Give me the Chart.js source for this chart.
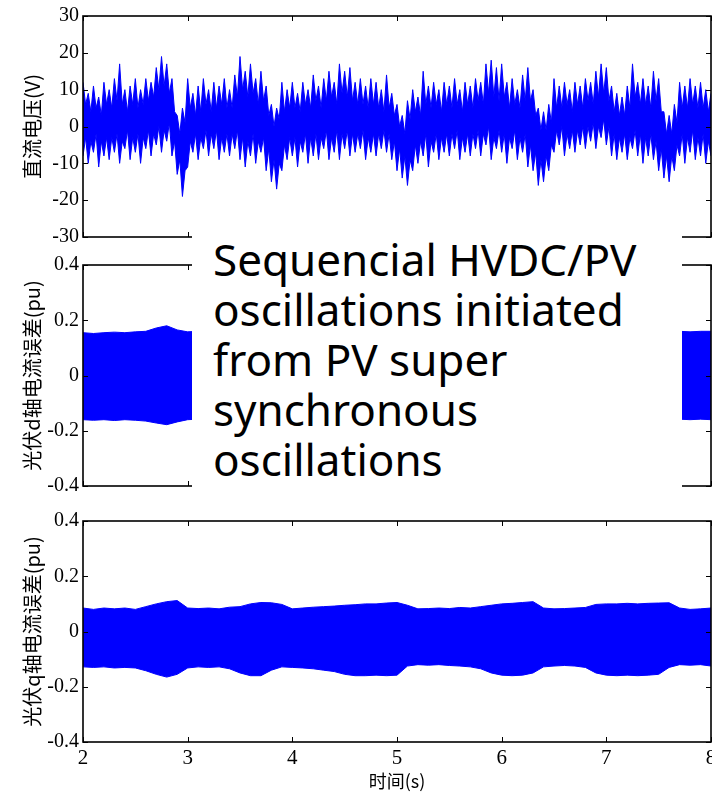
<!DOCTYPE html>
<html>
<head>
<meta charset="utf-8">
<script src="https://cdn.jsdelivr.net/npm/chart.js@4/dist/chart.umd.min.js"></script>
<style>
  html, body { margin: 0; padding: 0; background: #fff; }
  #wrap { position: relative; width: 712px; height: 792px; overflow: hidden; }
  canvas { position: absolute; left: 0; }
  #note {
    position: absolute;
    left: 192px;
    top: 228px;
    width: 469px;
    height: 259px;
    padding: 6px 0 0 21px;
    background: #fff;
    color: #000;
    font-family: 'Noto Sans', 'Open Sans', sans-serif;
    font-size: 44px;
    line-height: 50px;
    white-space: nowrap;
  }
</style>
</head>
<body>
<div id="wrap">
  <canvas id="c1" width="712" height="250" style="top:0px"></canvas>
  <canvas id="c2" width="712" height="250" style="top:250px"></canvas>
  <canvas id="c3" width="712" height="292" style="top:500px"></canvas>
  <div id="note">Sequencial HVDC/PV<br>oscillations initiated<br>from PV super<br>synchronous<br>oscillations</div>
</div>
<script>
// time axis (s)
const T_START = 2
const T_END = 8
const X_TICKS = [2, 3, 4, 5, 6, 7, 8]

// DC voltage: upper / lower edge of the oscillation, one value every 0.025 s from 2.000 to 8.000
const DC_STEP = 0.025
const dcUpper = [
  12, 6, 9, 4, 11, 5, 8, 3, 12, 6, 10, 5, 13, 7, 17, 6, 10, 4, 11, 6,
  13, 5, 10, 6, 13, 7, 12, 8, 16, 10, 19, 11, 17, 9, 13, 4, 3, -2, 5, 1,
  13, 5, 9, 3, 11, 4, 13, 6, 10, 4, 12, 5, 11, 6, 13, 5, 10, 5, 14, 8,
  19, 10, 15, 8, 17, 9, 13, 6, 15, 7, 11, 3, 6, 0, 5, 2, 12, 4, 10, 5,
  12, 5, 9, 4, 12, 6, 10, 5, 14, 7, 11, 5, 13, 7, 15, 8, 12, 6, 17, 9,
  15, 8, 16, 7, 12, 6, 13, 6, 11, 5, 13, 6, 12, 5, 10, 4, 14, 5, 9, 3,
  6, 0, 3, -2, 7, 2, 10, 4, 8, 3, 15, 6, 11, 5, 12, 6, 10, 4, 12, 6,
  11, 5, 13, 6, 10, 4, 12, 6, 11, 5, 13, 7, 12, 6, 17, 9, 18, 8, 16, 7,
  17, 8, 12, 5, 13, 6, 10, 5, 14, 7, 16, 7, 10, 3, 5, -1, 4, -1, 6, 1,
  13, 5, 11, 5, 12, 6, 10, 4, 12, 6, 11, 5, 13, 7, 12, 6, 15, 8, 17, 9,
  16, 7, 11, 4, 9, 3, 8, 3, 11, 5, 17, 8, 12, 6, 13, 6, 11, 5, 15, 7,
  13, 4, 4, -2, 3, -2, 6, 1, 12, 5, 11, 5, 13, 6, 11, 5, 12, 5, 10, 4,
  9
]
const dcLower = [
  -8, -3, -10, -4, -7, -2, -11, -4, -8, -3, -9, -3, -7, -2, -10, -4, -6, -1, -9, -3,
  -7, -2, -10, -3, -6, -1, -8, -2, -5, 0, -7, -1, -4, 1, -8, -4, -13, -9, -19, -12,
  -11, -4, -7, -2, -9, -3, -6, -1, -8, -2, -6, -1, -9, -3, -7, -2, -8, -2, -6, -1,
  -9, -3, -11, -4, -8, -2, -10, -4, -7, -3, -12, -6, -15, -9, -17, -10, -12, -5, -9, -3,
  -8, -3, -11, -4, -7, -2, -10, -3, -8, -2, -9, -3, -6, -1, -9, -3, -7, -1, -9, -2,
  -6, -1, -8, -2, -7, -2, -6, -1, -9, -3, -7, -2, -8, -2, -6, -1, -7, -2, -9, -4,
  -12, -6, -14, -8, -16, -9, -12, -5, -10, -4, -8, -2, -11, -4, -7, -2, -9, -3, -7, -2,
  -8, -2, -6, -1, -9, -3, -7, -2, -8, -2, -6, -1, -8, -2, -5, 0, -9, -3, -6, -1,
  -7, -2, -10, -3, -6, -1, -9, -3, -7, -2, -11, -5, -12, -7, -16, -9, -15, -8, -12, -5,
  -7, -1, -5, 0, -8, -2, -6, -1, -7, -1, -5, 0, -6, 0, -4, 1, -6, 0, -3, 2,
  -5, 0, -8, -2, -9, -3, -7, -2, -9, -3, -6, -1, -8, -2, -10, -3, -8, -2, -9, -4,
  -12, -6, -14, -8, -15, -8, -12, -5, -8, -2, -10, -3, -7, -1, -9, -3, -8, -2, -10, -4,
  -8
]

// PV current errors: upper / lower edge, one value every 0.1 s from 2.0 to 8.0
const PV_STEP = 0.1
const idUpper = [
  0.155, 0.152, 0.155, 0.157, 0.155, 0.158, 0.16, 0.172, 0.18, 0.165,
  0.158, 0.16, 0.158, 0.162, 0.16, 0.165, 0.163, 0.16, 0.158, 0.16,
  0.162, 0.16, 0.165, 0.163, 0.16, 0.158, 0.16, 0.162, 0.165, 0.16,
  0.158, 0.16, 0.162, 0.16, 0.158, 0.16, 0.162, 0.16, 0.158, 0.16,
  0.162, 0.16, 0.158, 0.16, 0.162, 0.16, 0.158, 0.16, 0.162, 0.16,
  0.158, 0.16, 0.162, 0.16, 0.158, 0.16, 0.162, 0.16, 0.158, 0.16,
  0.16
]
const idLower = [
  -0.16, -0.162, -0.16, -0.163, -0.16, -0.162, -0.165, -0.172, -0.178, -0.168,
  -0.16, -0.158, -0.16, -0.162, -0.16, -0.165, -0.163, -0.16, -0.158, -0.16,
  -0.162, -0.16, -0.165, -0.163, -0.16, -0.158, -0.16, -0.162, -0.165, -0.16,
  -0.158, -0.16, -0.162, -0.16, -0.158, -0.16, -0.162, -0.16, -0.158, -0.16,
  -0.162, -0.16, -0.158, -0.16, -0.162, -0.16, -0.158, -0.16, -0.16, -0.158,
  -0.16, -0.158, -0.16, -0.158, -0.16, -0.158, -0.16, -0.158, -0.16, -0.158,
  -0.16
]
const iqUpper = [
  0.085, 0.08, 0.085, 0.082, 0.085, 0.08, 0.09, 0.1, 0.108, 0.112,
  0.085, 0.083, 0.085, 0.082, 0.088, 0.09, 0.1, 0.105, 0.104, 0.098,
  0.082, 0.085, 0.088, 0.09, 0.092, 0.095, 0.097, 0.1, 0.1, 0.103,
  0.105, 0.095, 0.082, 0.083, 0.085, 0.083, 0.087, 0.085, 0.09, 0.095,
  0.1, 0.102, 0.105, 0.108, 0.085, 0.082, 0.083, 0.085, 0.087, 0.098,
  0.1, 0.1, 0.102, 0.1, 0.102, 0.103, 0.104, 0.085, 0.08, 0.082,
  0.085
]
const iqLower = [
  -0.128, -0.13, -0.128, -0.132, -0.13, -0.132, -0.142, -0.155, -0.165, -0.155,
  -0.132, -0.128, -0.13, -0.128, -0.135, -0.15, -0.16, -0.16, -0.14, -0.128,
  -0.13, -0.132, -0.135, -0.14, -0.145, -0.155, -0.16, -0.16, -0.158, -0.16,
  -0.158, -0.125, -0.12, -0.122, -0.12, -0.123, -0.125, -0.128, -0.135, -0.15,
  -0.158, -0.16, -0.158, -0.15, -0.128, -0.125, -0.123, -0.125, -0.13, -0.15,
  -0.158, -0.16, -0.158, -0.16, -0.158, -0.155, -0.13, -0.12, -0.122, -0.12,
  -0.125
]

const BLUE = '#0000ff'
const TICK_LEN = 5

// MATLAB style box with inward ticks on all four sides
const matlabFramePlugin = {
  id: 'matlabFrame',
  afterDatasetsDraw(chart) {
    const { ctx, chartArea: a } = chart
    const { x, y } = chart.scales
    ctx.save()
    ctx.strokeStyle = '#000'
    ctx.lineWidth = 1
    ctx.beginPath()
    x.ticks.forEach((t) => {
      const px = Math.round(x.getPixelForValue(t.value)) + 0.5
      ctx.moveTo(px, a.top)
      ctx.lineTo(px, a.top + TICK_LEN)
      ctx.moveTo(px, a.bottom)
      ctx.lineTo(px, a.bottom - TICK_LEN)
    })
    y.ticks.forEach((t) => {
      const py = Math.round(y.getPixelForValue(t.value)) + 0.5
      ctx.moveTo(a.left, py)
      ctx.lineTo(a.left + TICK_LEN, py)
      ctx.moveTo(a.right, py)
      ctx.lineTo(a.right - TICK_LEN, py)
    })
    ctx.stroke()
    ctx.lineWidth = 1.6
    ctx.strokeRect(a.left, a.top, a.width, a.height)
    ctx.restore()
  }
}

function toPoints(values, step) {
  return values.map((v, i) => ({ x: T_START + i * step, y: v }))
}

function makeBand(upper, lower, step) {
  return [
    {
      data: toPoints(upper, step),
      borderColor: BLUE,
      backgroundColor: BLUE,
      borderWidth: 1,
      pointRadius: 0,
      fill: '+1'
    },
    {
      data: toPoints(lower, step),
      borderColor: BLUE,
      borderWidth: 1,
      pointRadius: 0,
      fill: false
    }
  ]
}

function getConfig(datasets, yOpts, padding, withXLabels) {
  return {
    type: 'line',
    data: { datasets },
    options: {
      responsive: false,
      animation: false,
      devicePixelRatio: 1,
      layout: { padding },
      plugins: {
        legend: { display: false },
        tooltip: { enabled: false }
      },
      scales: {
        x: {
          type: 'linear',
          min: T_START,
          max: T_END,
          afterBuildTicks: (s) => {
            s.ticks = X_TICKS.map((v) => ({ value: v }))
          },
          grid: { display: false, drawTicks: false },
          border: { display: false },
          ticks: {
            display: withXLabels,
            padding: 4,
            color: '#000',
            font: { family: 'Liberation Serif', size: 21 }
          },
          title: {
            display: withXLabels,
            text: '时间(s)',
            color: '#000',
            font: { family: 'Noto Sans CJK SC', size: 18 },
            padding: { top: 0, bottom: 0 }
          },
          afterFit: (s) => {
            s.height = withXLabels ? 50 : 0
            s.paddingLeft = 0
            s.paddingRight = 0
          }
        },
        y: {
          min: yOpts.min,
          max: yOpts.max,
          afterBuildTicks: (s) => {
            s.ticks = yOpts.ticks.map((v) => ({ value: v }))
          },
          grid: { display: false, drawTicks: false },
          border: { display: false },
          ticks: {
            padding: 4,
            color: '#000',
            font: { family: 'Liberation Serif', size: 20 },
            callback: (v) => String(Math.round(v * 10) / 10)
          },
          title: {
            display: true,
            text: yOpts.title,
            color: '#000',
            font: { family: 'Noto Sans CJK SC', size: 20 },
            padding: { top: 20, bottom: 0 }
          },
          afterFit: (s) => {
            s.width = 83
            s.paddingTop = 0
            s.paddingBottom = 0
          }
        }
      }
    },
    plugins: [matlabFramePlugin]
  }
}

new Chart(
  document.getElementById('c1'),
  getConfig(
    makeBand(dcUpper, dcLower, DC_STEP),
    { min: -30, max: 30, ticks: [-30, -20, -10, 0, 10, 20, 30], title: '直流电压(V)' },
    { top: 16, right: 1, bottom: 13, left: 0 },
    false
  )
)

new Chart(
  document.getElementById('c2'),
  getConfig(
    makeBand(idUpper, idLower, PV_STEP),
    { min: -0.4, max: 0.4, ticks: [-0.4, -0.2, 0, 0.2, 0.4], title: '光伏d轴电流误差(pu)' },
    { top: 15, right: 1, bottom: 14, left: 0 },
    false
  )
)

new Chart(
  document.getElementById('c3'),
  getConfig(
    makeBand(iqUpper, iqLower, PV_STEP),
    { min: -0.4, max: 0.4, ticks: [-0.4, -0.2, 0, 0.2, 0.4], title: '光伏q轴电流误差(pu)' },
    { top: 21, right: 1, bottom: 0, left: 0 },
    true
  )
)
</script>
</body>
</html>
